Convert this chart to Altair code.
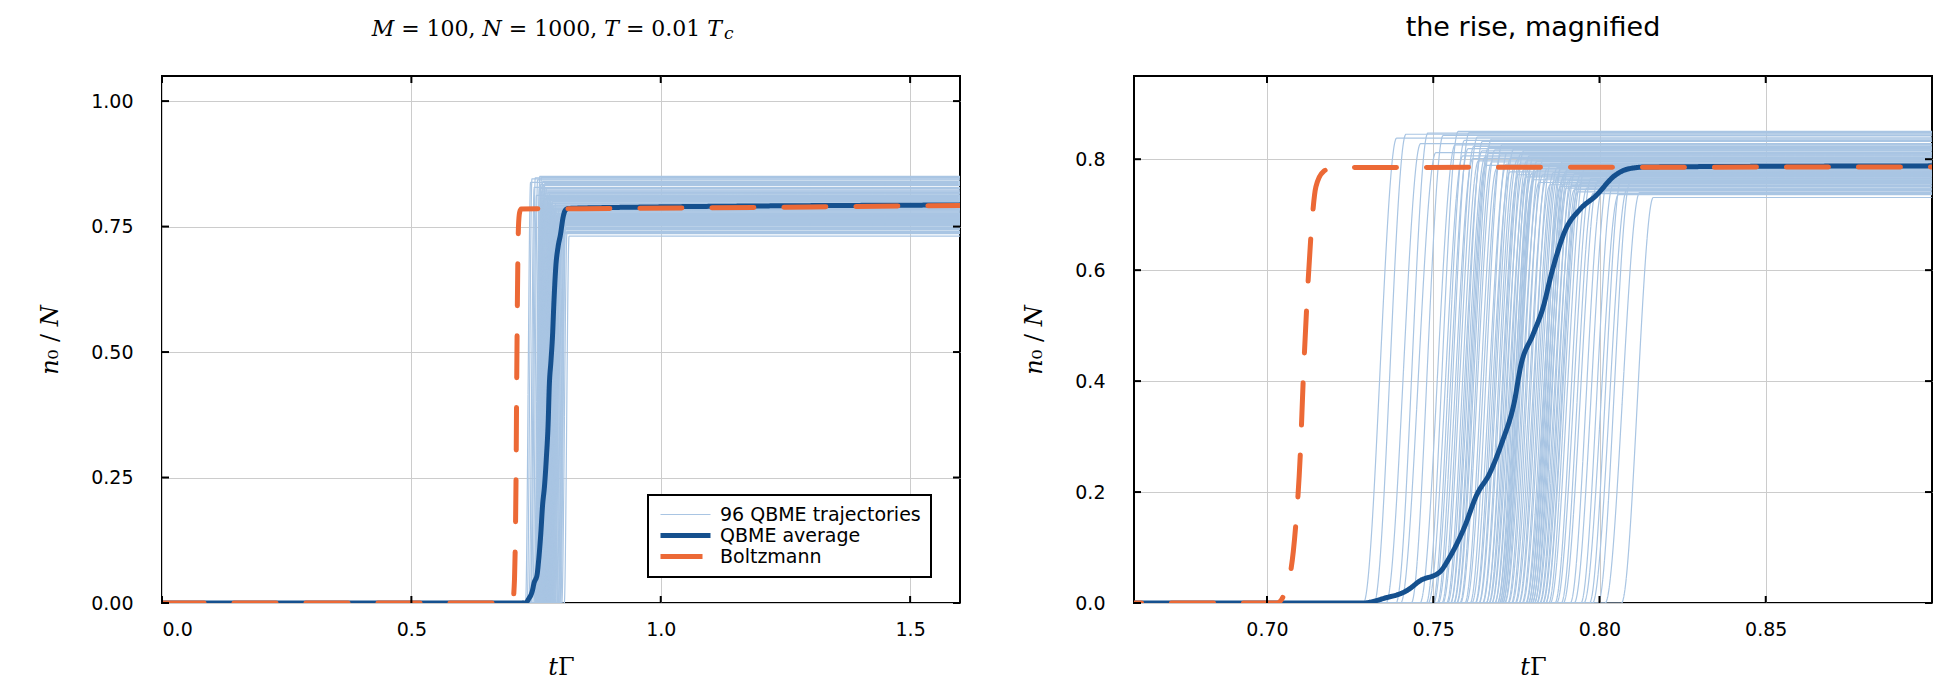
import altair as alt
import pandas as pd

# rise start / rise end / plateau level of each of the 96 trajectories
rise_start = [
    0.7290, 0.7322, 0.7358, 0.7388, 0.7402, 0.7434, 0.7460, 0.7479, 0.7485, 0.7498,
    0.7501, 0.7512, 0.7515, 0.7526, 0.7529, 0.7540, 0.7543, 0.7552, 0.7552, 0.7561,
    0.7562, 0.7570, 0.7571, 0.7580, 0.7582, 0.7595, 0.7599, 0.7611, 0.7616, 0.7626,
    0.7627, 0.7637, 0.7638, 0.7648, 0.7649, 0.7659, 0.7659, 0.7667, 0.7668, 0.7676,
    0.7676, 0.7685, 0.7685, 0.7693, 0.7693, 0.7699, 0.7698, 0.7704, 0.7703, 0.7709,
    0.7708, 0.7714, 0.7715, 0.7724, 0.7726, 0.7735, 0.7737, 0.7746, 0.7748, 0.7757,
    0.7758, 0.7767, 0.7769, 0.7778, 0.7779, 0.7786, 0.7785, 0.7792, 0.7791, 0.7798,
    0.7797, 0.7804, 0.7804, 0.7811, 0.7812, 0.7820, 0.7821, 0.7829, 0.7830, 0.7838,
    0.7838, 0.7847, 0.7852, 0.7866, 0.7871, 0.7885, 0.7891, 0.7912, 0.7924, 0.7944,
    0.7953, 0.7970, 0.7979, 0.7996, 0.8017, 0.8066,
]
rise_end = [
    0.7390, 0.7418, 0.7462, 0.7484, 0.7508, 0.7530, 0.7566, 0.7575, 0.7589, 0.7594,
    0.7605, 0.7608, 0.7619, 0.7622, 0.7633, 0.7636, 0.7647, 0.7648, 0.7656, 0.7657,
    0.7666, 0.7666, 0.7675, 0.7676, 0.7686, 0.7691, 0.7703, 0.7707, 0.7720, 0.7722,
    0.7731, 0.7733, 0.7742, 0.7744, 0.7753, 0.7755, 0.7763, 0.7763, 0.7772, 0.7772,
    0.7780, 0.7781, 0.7789, 0.7789, 0.7797, 0.7795, 0.7802, 0.7800, 0.7807, 0.7805,
    0.7812, 0.7810, 0.7819, 0.7820, 0.7830, 0.7831, 0.7841, 0.7842, 0.7852, 0.7853,
    0.7862, 0.7863, 0.7873, 0.7874, 0.7883, 0.7882, 0.7889, 0.7888, 0.7895, 0.7894,
    0.7901, 0.7900, 0.7908, 0.7907, 0.7916, 0.7916, 0.7925, 0.7925, 0.7934, 0.7934,
    0.7942, 0.7943, 0.7956, 0.7962, 0.7975, 0.7981, 0.7995, 0.8008, 0.8028, 0.8040,
    0.8057, 0.8066, 0.8083, 0.8092, 0.8121, 0.8162,
]
plateau = [
    0.838, 0.845, 0.828, 0.847, 0.812, 0.843, 0.826, 0.850, 0.806, 0.834,
    0.819, 0.848, 0.801, 0.823, 0.840, 0.797, 0.815, 0.832, 0.804, 0.789,
    0.821, 0.810, 0.836, 0.795, 0.817, 0.783, 0.808, 0.826, 0.791, 0.812,
    0.777, 0.803, 0.818, 0.786, 0.799, 0.772, 0.809, 0.793, 0.781, 0.815,
    0.768, 0.797, 0.787, 0.806, 0.775, 0.791, 0.763, 0.802, 0.784, 0.770,
    0.796, 0.779, 0.758, 0.789, 0.772, 0.800, 0.766, 0.783, 0.754, 0.792,
    0.776, 0.761, 0.785, 0.769, 0.751, 0.781, 0.764, 0.795, 0.757, 0.773,
    0.748, 0.779, 0.762, 0.787, 0.753, 0.768, 0.745, 0.774, 0.759, 0.741,
    0.771, 0.756, 0.783, 0.748, 0.765, 0.738, 0.760, 0.744, 0.777, 0.752,
    0.736, 0.766, 0.746, 0.758, 0.740, 0.731,
]
t_end = 1.6

# QBME average
avg_t = [0.0, 0.729, 0.735, 0.7425, 0.746, 0.752, 0.7547, 0.7594, 0.763, 0.767, 0.7707,
         0.7744, 0.7763, 0.780, 0.783, 0.7857, 0.7895, 0.7942, 0.7989, 0.8045, 0.8083,
         0.814, 0.9, 1.6]
avg_n = [0.0, 0.0, 0.008, 0.024, 0.04, 0.056, 0.08, 0.137, 0.194, 0.234, 0.29,
         0.363, 0.427, 0.484, 0.532, 0.597, 0.669, 0.71, 0.734, 0.77, 0.782,
         0.786, 0.788, 0.793]

# Boltzmann
bz_t = [0.0, 0.703, 0.7068, 0.7086, 0.710, 0.7109, 0.712, 0.7133, 0.7147, 0.717, 0.720, 0.9, 1.6]
bz_n = [0.0, 0.0, 0.048, 0.137, 0.266, 0.403, 0.54, 0.669, 0.75, 0.778, 0.785, 0.786, 0.792]

series = ["96 QBME trajectories", "QBME average", "Boltzmann"]
colors = ["#a9c5e3", "#15508e", "#ec6936"]

rows = []
for i in range(len(rise_start)):
    pts = [(0.0, 0.0), (rise_start[i], 0.0), (rise_end[i], plateau[i]), (t_end, plateau[i])]
    for k, (t, n) in enumerate(pts):
        rows.append({"t": t, "n": n, "traj": i, "k": k, "series": series[0]})
traj_df = pd.DataFrame(rows)
avg_df = pd.DataFrame({"t": avg_t, "n": avg_n, "series": series[1]})
bz_df = pd.DataFrame({"t": bz_t, "n": bz_n, "series": series[2]})

W, H = 798, 527
TICK = 7


def panel(xdom, ydom, xvals, yvals, xfmt, yfmt, show_legend, extra=()):
    if show_legend:
        leg = alt.Legend(title=None)
    else:
        leg = None
    x = alt.X("t:Q", scale=alt.Scale(domain=xdom, nice=False, zero=False),
              axis=alt.Axis(values=xvals, format=xfmt, title="𝑡Γ"))
    y = alt.Y("n:Q", scale=alt.Scale(domain=ydom, nice=False),
              axis=alt.Axis(values=yvals, format=yfmt, title="𝑛₀ / 𝑁"))
    col = alt.Color("series:N", scale=alt.Scale(domain=series, range=colors), legend=leg)
    sw = alt.StrokeWidth("series:N", scale=alt.Scale(type="ordinal", domain=series, range=[1.2, 5, 5]),
                         legend=leg)
    sd = alt.StrokeDash("series:N", scale=alt.Scale(domain=series, range=[[1, 0], [1, 0], [42, 30]]),
                        legend=leg)

    traj = alt.Chart(traj_df).mark_line(clip=True, interpolate="monotone").encode(
        x=x, y=y, color=col, strokeWidth=sw, strokeDash=sd, detail="traj:N", order="k:Q")
    avg = alt.Chart(avg_df).mark_line(clip=True, interpolate="monotone", strokeCap="round").encode(
        x=x, y=y, color=col, strokeWidth=sw, strokeDash=sd)
    bz = alt.Chart(bz_df).mark_line(clip=True, interpolate="monotone", strokeCap="round").encode(
        x=x, y=y, color=col, strokeWidth=sw, strokeDash=sd)

    # inward ticks on all four sides
    xt = pd.DataFrame({"t": xvals})
    yt = pd.DataFrame({"n": yvals})
    tick = dict(color="black", strokeWidth=2, clip=False)
    top = alt.Chart(xt).mark_rule(**tick).encode(x="t:Q", y=alt.value(0), y2=alt.value(TICK))
    bot = alt.Chart(xt).mark_rule(**tick).encode(x="t:Q", y=alt.value(H - TICK), y2=alt.value(H))
    lft = alt.Chart(yt).mark_rule(**tick).encode(y="n:Q", x=alt.value(0), x2=alt.value(TICK))
    rgt = alt.Chart(yt).mark_rule(**tick).encode(y="n:Q", x=alt.value(W - TICK), x2=alt.value(W))

    return alt.layer(traj, avg, bz, top, bot, lft, rgt, *extra).properties(width=W, height=H)


# left title written as text, so that T_c can carry its subscript
TITLE_END = W - 238
TITLE_BASE = -40
main_title = alt.Chart(pd.DataFrame({"s": ["𝑀 = 100, 𝑁 = 1000, 𝑇 = 0.01 𝑇"]})).mark_text(
    align="right", baseline="alphabetic", font="DejaVu Serif", fontSize=22, color="black"
).encode(text="s:N", x=alt.value(TITLE_END), y=alt.value(TITLE_BASE))
sub_c = alt.Chart(pd.DataFrame({"s": ["𝑐"]})).mark_text(
    align="left", baseline="alphabetic", font="DejaVu Serif", fontSize=17, color="black"
).encode(text="s:N", x=alt.value(TITLE_END + 2), y=alt.value(TITLE_BASE + 3))

left = panel([0, 1.6], [0, 1.05], [0.0, 0.5, 1.0, 1.5], [0.0, 0.25, 0.5, 0.75, 1.0],
             ".1f", ".2f", True, (main_title, sub_c))
right = panel([0.66, 0.90], [0, 0.95], [0.70, 0.75, 0.80, 0.85], [0.0, 0.2, 0.4, 0.6, 0.8],
              ".2f", ".1f", False).properties(title="the rise, magnified")

chart = alt.hconcat(left, right, spacing=174, bounds="flush").resolve_scale(
    color="independent", strokeWidth="independent", strokeDash="independent"
).resolve_legend(
    color="independent", strokeWidth="independent", strokeDash="independent"
).properties(
    padding={"left": 29, "top": 5, "right": 5, "bottom": 5}
).configure_view(
    stroke="black", strokeWidth=2
).configure_axis(
    labelFont="DejaVu Sans", labelFontSize=19, labelColor="black", labelPadding=17,
    gridColor="#cccccc", gridWidth=1, domain=False, ticks=False, tickSize=0,
    titleFont="DejaVu Serif", titleFontSize=24, titleFontWeight="normal", titleColor="black",
    titlePadding=16
).configure_axisY(
    labelPadding=29, titlePadding=28
).configure_title(
    font="DejaVu Sans", fontSize=27, fontWeight="normal", color="black", offset=33
).configure_legend(
    orient="none", legendX=486, legendY=419, fillColor="white", strokeColor="black",
    strokeWidth=2, padding=10, labelFont="DejaVu Sans", labelFontSize=19, labelColor="black",
    labelLimit=400, symbolType="stroke", symbolSize=2500, rowPadding=1, labelOffset=7,
    clipHeight=19
)

chart.save("out.html", embed_options={"renderer": "svg", "actions": False})
